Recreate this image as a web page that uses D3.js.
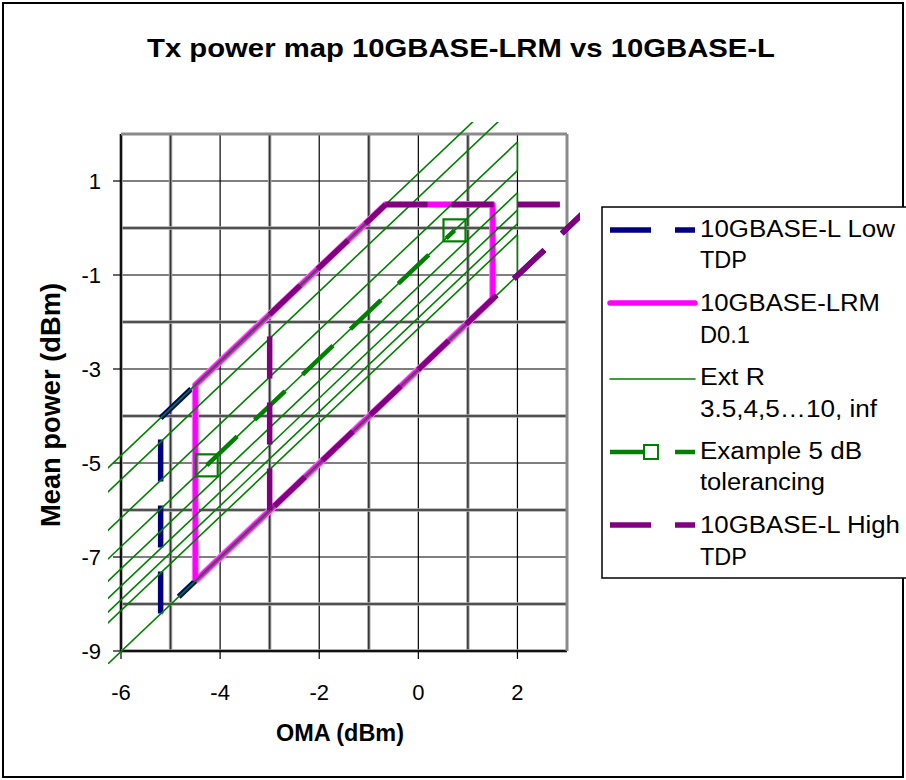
<!DOCTYPE html>
<html>
<head>
<meta charset="utf-8">
<script src="https://cdn.jsdelivr.net/npm/d3@7"></script>
<style>
  body { margin: 0; background: #fff; }
  text { font-family: "Liberation Sans", Arial, sans-serif; fill: #000; }
</style>
</head>
<body>
<div id="view"></div>
<script>
var width = 906, height = 780;

// 軸の範囲と目盛
var omaDomain = [-6, 3];
var powerDomain = [-9, 2];
var xTickValues = [-6, -4, -2, 0, 2];
var yTickValues = [1, -1, -3, -5, -7, -9];

// 10GBASE-L Low TDP
var lowTdpOMA   = [-5.2, -5.2, -0.66, 3.51, -5.19];
var lowTdpPower = [-8.2, -4.04, 0.5, 0.5, -8.2];

// 10GBASE-LRM D0.1
var lrmOMA   = [-4.5, -4.5, -0.66, 1.5, 1.5, -4.5];
var lrmPower = [-7.5, -3.34, 0.5, 0.5, -1.51, -7.51];

// 10GBASE-L High TDP
var highTdpOMA   = [-3.0, -3.0, -0.66, 3.51, -3.0];
var highTdpPower = [-6.01, -1.84, 0.5, 0.5, -6.01];

// Ext R 3.5,4,5...10, inf  (左端 OMA -7, 右端 OMA 2)
var extRLabels     = ["3.5", "4", "5", "6", "7", "8", "9", "10", "inf"];
var extRLeftOMA    = -7;
var extRRightOMA   = 2;
var extRLeftPower  = [-5.84, -6.35, -7.17, -7.78, -8.25, -8.62, -8.91, -9.14, -10.01];
var extRRightPower = [3.16, 2.65, 1.83, 1.22, 0.75, 0.38, 0.09, -0.14, -1.01];
var extRJoins      = [[2, 3], [4, 6], [7, 8]];   // 右端の縦線

// Example 5 dB tolerancing
var exampleOMA   = [-4.27, 0.73];
var examplePower = [-5.05, -0.05];

var svg = d3.select("#view").append("svg")
	.attr("width", width)
	.attr("height", height);

var x = d3.scaleLinear().domain(omaDomain).range([121, 567]);
var y = d3.scaleLinear().domain(powerDomain).range([651, 134]);

// 外枠
svg.append("rect")
	.attr("x", 3).attr("y", 3).attr("width", 900).attr("height", 774)
	.style("fill", "#fff").style("stroke", "#000").style("stroke-width", 2);

// タイトル
svg.append("text")
	.attr("x", 461).attr("y", 57)
	.attr("text-anchor", "middle")
	.attr("textLength", 628).attr("lengthAdjust", "spacingAndGlyphs")
	.style("font-size", "25px").style("font-weight", "bold")
	.text("Tx power map 10GBASE-LRM vs 10GBASE-L");

// グリッド
var gx = d3.range(omaDomain[0], omaDomain[1] + 1);
var gy = d3.range(powerDomain[0], powerDomain[1] + 1);
var grid = svg.append("g");

function vline(v, stroke, w) {
	grid.append("line")
		.attr("x1", x(v)).attr("x2", x(v)).attr("y1", y(powerDomain[0])).attr("y2", y(powerDomain[1]))
		.style("stroke", stroke).style("stroke-width", w);
}
function hline(v, stroke, w) {
	grid.append("line")
		.attr("y1", y(v)).attr("y2", y(v)).attr("x1", x(omaDomain[0])).attr("x2", x(omaDomain[1]))
		.style("stroke", stroke).style("stroke-width", w);
}
gx.filter(function(v) { return Math.abs(v % 2) === 0; }).forEach(function(v) { vline(v, "#000", 1.2); });
gy.filter(function(v) { return Math.abs(v % 2) === 1; }).forEach(function(v) { hline(v, "#000", 1.2); });
// 太い線
gx.filter(function(v) { return Math.abs(v % 2) === 1 && v !== 3; }).forEach(function(v) {
	vline(v, "#aaa", 3.5); vline(v, "#333", 1.5);
});
gy.filter(function(v) { return Math.abs(v % 2) === 0 && v !== 2; }).forEach(function(v) {
	hline(v, "#aaa", 3.5); hline(v, "#333", 1.5);
});
vline(-6, "#999", 3.5); vline(-6, "#111", 2);
hline(-9, "#999", 3.5); hline(-9, "#111", 2);
// 上と右の枠線
hline(2, "#8a8a8a", 3);
vline(3, "#8a8a8a", 3);

// 目盛線
svg.append("g").selectAll("line").data(yTickValues).enter().append("line")
	.attr("x1", x(omaDomain[0]) - 8).attr("x2", x(omaDomain[0]))
	.attr("y1", function(d) { return y(d); }).attr("y2", function(d) { return y(d); })
	.style("stroke", "#000").style("stroke-width", 1.2);
svg.append("g").selectAll("line").data(xTickValues).enter().append("line")
	.attr("y1", y(powerDomain[0])).attr("y2", y(powerDomain[0]) + 8)
	.attr("x1", function(d) { return x(d); }).attr("x2", function(d) { return x(d); })
	.style("stroke", "#000").style("stroke-width", 1.2);

// 目盛ラベル
svg.append("g").selectAll("text").data(yTickValues).enter().append("text")
	.attr("x", 101).attr("y", function(d) { return y(d); }).attr("dy", "0.36em")
	.attr("text-anchor", "end")
	.style("font-size", "22px")
	.text(function(d) { return d; });
svg.append("g").selectAll("text").data(xTickValues).enter().append("text")
	.attr("x", function(d) { return x(d); }).attr("y", 700)
	.attr("text-anchor", "middle")
	.style("font-size", "22px")
	.text(function(d) { return d; });

// 軸タイトル
svg.append("text")
	.attr("x", 340).attr("y", 741)
	.attr("text-anchor", "middle")
	.attr("textLength", 128).attr("lengthAdjust", "spacingAndGlyphs")
	.style("font-size", "23px").style("font-weight", "bold")
	.text("OMA (dBm)");
svg.append("text")
	.attr("transform", "translate(60,405) rotate(-90)")
	.attr("text-anchor", "middle")
	.attr("textLength", 244).attr("lengthAdjust", "spacingAndGlyphs")
	.style("font-size", "27px").style("font-weight", "bold")
	.text("Mean power (dBm)");

// 系列 (プロット領域より少し広くクリップ)
svg.append("clipPath").attr("id", "plotclip").append("rect")
	.attr("x", 108).attr("y", 122).attr("width", 472).attr("height", 542);
var plot = svg.append("g").attr("clip-path", "url(#plotclip)");

function pts(omas, powers) {
	return omas.map(function(o, i) { return [o, powers[i]]; });
}
var line = d3.line()
	.x(function(d) { return x(d[0]); })
	.y(function(d) { return y(d[1]); });

// 破線は区間ごとに描く (区間ごとに破線の位相が始まる)
function dashedSeries(omas, powers, color, w) {
	var p = pts(omas, powers);
	plot.append("g").selectAll("path").data(d3.pairs(p)).enter().append("path")
		.attr("d", function(d) { return line(d); })
		.style("fill", "none").style("stroke", color).style("stroke-width", w)
		.style("stroke-dasharray", "42,24");
}

// Low TDP
dashedSeries(lowTdpOMA, lowTdpPower, "#000080", 5.5);

// LRM
plot.append("path")
	.attr("d", line(pts(lrmOMA, lrmPower)))
	.style("fill", "none").style("stroke", "#ff80ff").style("stroke-width", 7)
	.style("stroke-linejoin", "round");
plot.append("path")
	.attr("d", line(pts(lrmOMA, lrmPower)))
	.style("fill", "none").style("stroke", "#ff00ff").style("stroke-width", 5)
	.style("stroke-linejoin", "round");

// Ext R
plot.append("g").selectAll("line").data(extRLabels).enter().append("line")
	.attr("x1", x(extRLeftOMA)).attr("x2", x(extRRightOMA))
	.attr("y1", function(d, i) { return y(extRLeftPower[i]); })
	.attr("y2", function(d, i) { return y(extRRightPower[i]); })
	.style("stroke", "#008000").style("stroke-width", 1.6);
plot.append("g").selectAll("line").data(extRJoins).enter().append("line")
	.attr("x1", x(extRRightOMA)).attr("x2", x(extRRightOMA))
	.attr("y1", function(d) { return y(extRRightPower[d[0]]); })
	.attr("y2", function(d) { return y(extRRightPower[d[1]]); })
	.style("stroke", "#008000").style("stroke-width", 1.6);

// Example
dashedSeries(exampleOMA, examplePower, "#008000", 4.5);
plot.append("g").selectAll("rect").data(exampleOMA).enter().append("rect")
	.attr("x", function(d) { return x(d) - 11; })
	.attr("y", function(d, i) { return y(examplePower[i]) - 11; })
	.attr("width", 22).attr("height", 22)
	.style("fill", "none").style("stroke", "#008000").style("stroke-width", 2.2);

// High TDP
dashedSeries(highTdpOMA, highTdpPower, "#800080", 5.5);

// 凡例
var legend = svg.append("g");
legend.append("rect")
	.attr("x", 602).attr("y", 207).attr("width", 310).attr("height", 371)
	.style("fill", "#fff").style("stroke", "#000").style("stroke-width", 1.5);

var legendItems = [
	{ color: "#000080", w: 5.5, dash: "41,24", sy: 230, lines: [["10GBASE-L Low", 237, 195], ["TDP", 268, 47]] },
	{ color: "#ff00ff", w: 5.5, dash: null,    sy: 303, lines: [["10GBASE-LRM", 311, 180], ["D0.1", 343, 50]] },
	{ color: "#008000", w: 1.6, dash: null,    sy: 379, lines: [["Ext R", 385, 65], ["3.5,4,5…10, inf", 417, 177]] },
	{ color: "#008000", w: 4.5, dash: "41,24", sy: 452, marker: true, lines: [["Example 5 dB", 459, 162], ["tolerancing", 490, 125]] },
	{ color: "#800080", w: 5.5, dash: "41,24", sy: 525, lines: [["10GBASE-L High", 533, 200], ["TDP", 565, 47]] }
];
legendItems.forEach(function(it) {
	legend.append("line")
		.attr("x1", 610).attr("x2", 695).attr("y1", it.sy).attr("y2", it.sy)
		.style("stroke", it.color).style("stroke-width", it.w)
		.style("stroke-linecap", it.dash ? "butt" : "round")
		.style("stroke-dasharray", it.dash);
	if (it.marker) {
		legend.append("rect")
			.attr("x", 644).attr("y", it.sy - 7).attr("width", 14).attr("height", 14)
			.style("fill", "#fff").style("stroke", "#008000").style("stroke-width", 2);
	}
	it.lines.forEach(function(l) {
		legend.append("text")
			.attr("x", 700).attr("y", l[1])
			.attr("textLength", l[2]).attr("lengthAdjust", "spacingAndGlyphs")
			.style("font-size", "23px")
			.text(l[0]);
	});
});
</script>
</body>
</html>
